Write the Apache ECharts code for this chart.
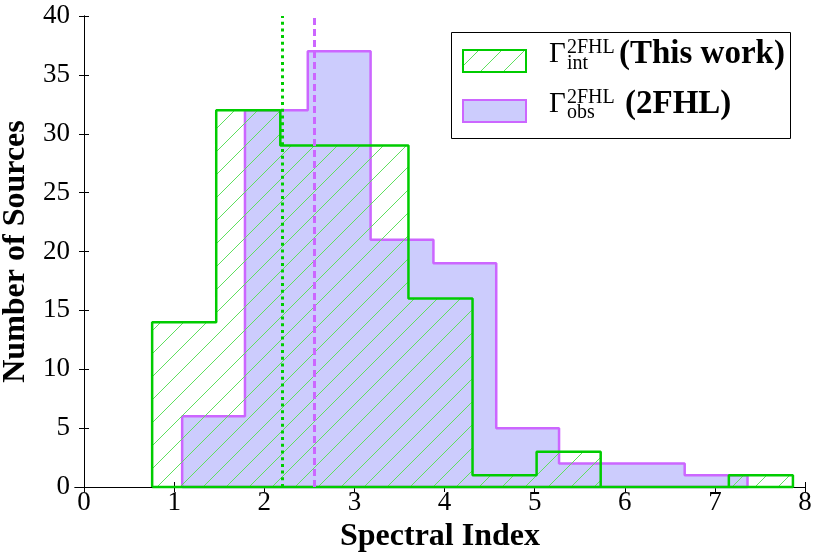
<!DOCTYPE html>
<html>
<head>
<meta charset="utf-8">
<script src="https://cdn.jsdelivr.net/npm/echarts@6/dist/echarts.min.js"></script>
<style>
  html, body { margin: 0; padding: 0; background: #fff; }
  #chart { width: 830px; height: 554px; }
</style>
</head>
<body>
<div id="chart"></div>
<script>
// histogram data
var greenEdges = [0.756, 1.467, 2.178, 2.889, 3.600, 4.311, 5.022, 5.733, 6.444, 7.155, 7.866];
var greenCounts = [14, 32, 29, 29, 16, 1, 3, 0, 0, 1];
var purpleEdges = [1.089, 1.786, 2.483, 3.180, 3.877, 4.574, 5.271, 5.968, 6.665, 7.362];
var purpleCounts = [6, 32, 37, 21, 19, 5, 2, 2, 1];
var greenMean = 2.20;
var purpleMean = 2.55;
var xTicks = [0, 1, 2, 3, 4, 5, 6, 7, 8];

var GREEN = '#00cc00';
var PURPLE = '#cc66ff';
var FILL = '#ccccfd';
var SERIF = '"Liberation Serif", "DejaVu Serif", serif';

// outline of a step histogram, closed along the base
function stepOutline(edges, counts) {
  var pts = [[edges[0], 0]];
  for (var i = 0; i < counts.length; i++) {
    pts.push([edges[i], counts[i]]);
    pts.push([edges[i + 1], counts[i]]);
  }
  pts.push([edges[edges.length - 1], 0]);
  pts.push([edges[0], 0]);
  return pts;
}

// hatch tile "/"
function hatch() {
  var s = 23;
  var c = document.createElement('canvas');
  c.width = s; c.height = s;
  var g = c.getContext('2d');
  g.strokeStyle = '#5fe05f';
  g.lineWidth = 1;
  g.beginPath();
  g.moveTo(-2, s + 2); g.lineTo(s + 2, -2);
  g.moveTo(-2, 2); g.lineTo(2, -2);
  g.moveTo(s - 2, s + 2); g.lineTo(s + 2, s - 2);
  g.stroke();
  return c;
}
var hatchPattern = { image: hatch(), repeat: 'repeat' };

var chart = echarts.init(document.getElementById('chart'));

var tickStyle = { show: true, inside: true, length: 5, lineStyle: { color: '#000', width: 1 } };
var lineStyleAx = { show: true, lineStyle: { color: '#000', width: 1 } };

var option = {
  animation: false,
  backgroundColor: '#fff',
  grid: { left: 75, right: 25, top: 16, bottom: 67, outerBoundsMode: 'none' },
  xAxis: [
    {
      type: 'value', min: -0.1, max: 8, position: 'bottom',
      axisLine: lineStyleAx,
      axisTick: Object.assign({ customValues: xTicks }, tickStyle),
      axisLabel: { customValues: xTicks, color: '#000', fontFamily: SERIF, fontSize: 27, margin: 2 },
      splitLine: { show: false },
      name: 'Spectral Index', nameLocation: 'middle', nameGap: 34,
      nameTextStyle: { color: '#000', fontFamily: SERIF, fontWeight: 'bold', fontSize: 32 }
    },
    {
      type: 'value', min: -0.1, max: 8, position: 'top',
      axisLine: lineStyleAx,
      axisTick: Object.assign({ customValues: xTicks }, tickStyle),
      axisLabel: { show: false, customValues: xTicks },
      splitLine: { show: false }
    }
  ],
  yAxis: [
    {
      type: 'value', min: 0, max: 40, interval: 5, position: 'left',
      axisLine: lineStyleAx,
      axisTick: tickStyle,
      axisLabel: { color: '#000', fontFamily: SERIF, fontSize: 27, margin: 5 },
      splitLine: { show: false },
      name: 'Number of Sources', nameLocation: 'middle', nameGap: 32,
      nameTextStyle: { color: '#000', fontFamily: SERIF, fontWeight: 'bold', fontSize: 32 }
    },
    {
      type: 'value', min: 0, max: 40, interval: 5, position: 'right',
      axisLine: lineStyleAx,
      axisTick: tickStyle,
      axisLabel: { show: false },
      splitLine: { show: false }
    }
  ],
  series: [
    {
      name: 'obs',
      type: 'line',
      data: stepOutline(purpleEdges, purpleCounts),
      symbol: 'none',
      clip: false,
      lineStyle: { color: PURPLE, width: 2.5 },
      areaStyle: { color: FILL, opacity: 1 },
      z: 2,
      markLine: {
        silent: true, symbol: 'none', label: { show: false },
        lineStyle: { color: PURPLE, width: 3, type: [7, 4] },
        data: [{ xAxis: purpleMean }]
      }
    },
    {
      name: 'int',
      type: 'line',
      data: stepOutline(greenEdges, greenCounts),
      symbol: 'none',
      clip: false,
      lineStyle: { color: GREEN, width: 2.5 },
      areaStyle: { color: hatchPattern, opacity: 1 },
      z: 3,
      markLine: {
        silent: true, symbol: 'none', label: { show: false },
        lineStyle: { color: GREEN, width: 3, type: [3, 3.7] },
        data: [{ xAxis: greenMean }]
      }
    }
  ],
  graphic: [
    { type: 'rect', shape: { x: 451.5, y: 32.5, width: 339, height: 106 },
      style: { fill: '#fff', stroke: '#000', lineWidth: 1 }, z: 10 },
    { type: 'rect', shape: { x: 463, y: 50, width: 63, height: 22 },
      style: { fill: hatchPattern, stroke: GREEN, lineWidth: 2 }, z: 11 },
    { type: 'rect', shape: { x: 463, y: 100, width: 63, height: 22 },
      style: { fill: FILL, stroke: PURPLE, lineWidth: 2 }, z: 11 },
    { type: 'text', x: 549, y: 54, z: 11,
      style: { text: 'Γ', fontFamily: SERIF, fontSize: 29, fill: '#000', verticalAlign: 'middle' } },
    { type: 'text', x: 567, y: 48, z: 11,
      style: { text: '2FHL', fontFamily: SERIF, fontSize: 20, fill: '#000', verticalAlign: 'middle' } },
    { type: 'text', x: 567, y: 64, z: 11,
      style: { text: 'int', fontFamily: SERIF, fontSize: 20, fill: '#000', verticalAlign: 'middle' } },
    { type: 'text', x: 619, y: 54, z: 11,
      style: { text: '(This work)', fontFamily: SERIF, fontWeight: 'bold', fontSize: 33, fill: '#000', verticalAlign: 'middle' } },
    { type: 'text', x: 549, y: 104, z: 11,
      style: { text: 'Γ', fontFamily: SERIF, fontSize: 29, fill: '#000', verticalAlign: 'middle' } },
    { type: 'text', x: 567, y: 98, z: 11,
      style: { text: '2FHL', fontFamily: SERIF, fontSize: 20, fill: '#000', verticalAlign: 'middle' } },
    { type: 'text', x: 567, y: 113, z: 11,
      style: { text: 'obs', fontFamily: SERIF, fontSize: 20, fill: '#000', verticalAlign: 'middle' } },
    { type: 'text', x: 625, y: 104, z: 11,
      style: { text: '(2FHL)', fontFamily: SERIF, fontWeight: 'bold', fontSize: 33, fill: '#000', verticalAlign: 'middle' } }
  ]
};

chart.setOption(option);
</script>
</body>
</html>
